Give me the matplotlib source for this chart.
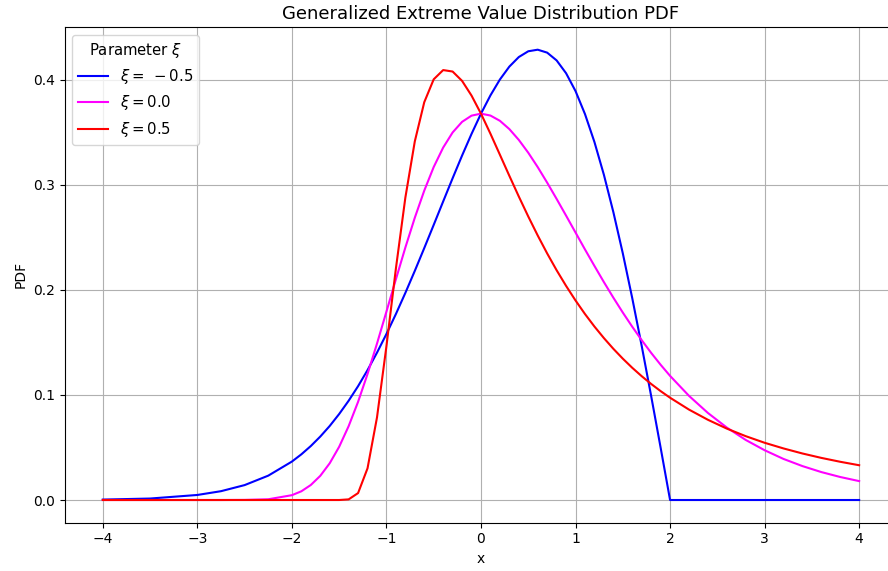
import matplotlib.pyplot as plt

# sample positions along x
x = [-4.0, -3.5, -3.0, -2.75, -2.5, -2.25,
     -2.0, -1.9, -1.8, -1.7, -1.6, -1.5, -1.4, -1.3, -1.2, -1.1,
     -1.0, -0.9, -0.8, -0.7, -0.6, -0.5, -0.4, -0.3, -0.2, -0.1,
     0.0, 0.1, 0.2, 0.3, 0.4, 0.5, 0.6, 0.7, 0.8, 0.9,
     1.0, 1.1, 1.2, 1.3, 1.4, 1.5, 1.6, 1.7, 1.8, 1.9,
     2.0, 2.2, 2.4, 2.6, 2.8, 3.0, 3.2, 3.4, 3.6, 3.8, 4.0]

# xi = -0.5
pdf_neg = [0.0004, 0.0014, 0.0048, 0.0084, 0.0142, 0.0232,
           0.0366, 0.0435, 0.0514, 0.0604, 0.0705, 0.0819, 0.0945, 0.1084, 0.1237, 0.1403,
           0.1581, 0.1771, 0.1972, 0.2182, 0.2399, 0.2620, 0.2843, 0.3064, 0.3280, 0.3486,
           0.3679, 0.3853, 0.4004, 0.4127, 0.4218, 0.4273, 0.4288, 0.4260, 0.4186, 0.4064,
           0.3894, 0.3675, 0.3409, 0.3097, 0.2742, 0.2349, 0.1922, 0.1467, 0.0990, 0.0499,
           0.0, 0.0, 0.0, 0.0, 0.0, 0.0, 0.0, 0.0, 0.0, 0.0, 0.0]

# xi = 0.0
pdf_zero = [0.0, 0.0, 0.0, 0.0, 0.0001, 0.0007,
            0.0046, 0.0083, 0.0143, 0.0230, 0.0350, 0.0507, 0.0703, 0.0935, 0.1200, 0.1489,
            0.1794, 0.2102, 0.2404, 0.2688, 0.2946, 0.3171, 0.3356, 0.3500, 0.3601, 0.3660,
            0.3679, 0.3661, 0.3611, 0.3532, 0.3429, 0.3307, 0.3170, 0.3022, 0.2867, 0.2708,
            0.2547, 0.2386, 0.2229, 0.2075, 0.1927, 0.1785, 0.1650, 0.1522, 0.1401, 0.1288,
            0.1182, 0.0992, 0.0829, 0.0690, 0.0572, 0.0474, 0.0391, 0.0323, 0.0266, 0.0219, 0.0180]

# xi = 0.5
pdf_pos = [0.0, 0.0, 0.0, 0.0, 0.0, 0.0,
           0.0, 0.0, 0.0, 0.0, 0.0, 0.0, 0.0006, 0.0066, 0.0302, 0.0786,
           0.1465, 0.2204, 0.2879, 0.3415, 0.3788, 0.4006, 0.4094, 0.4080, 0.3991, 0.3851,
           0.3679, 0.3488, 0.3288, 0.3087, 0.2890, 0.2700, 0.2519, 0.2348, 0.2188, 0.2039,
           0.1900, 0.1771, 0.1652, 0.1542, 0.1440, 0.1346, 0.1259, 0.1179, 0.1105, 0.1037,
           0.0974, 0.0861, 0.0764, 0.0680, 0.0608, 0.0545, 0.0491, 0.0443, 0.0401, 0.0364, 0.0331]

series = [
    (pdf_neg, r'$\xi =\;-0.5$', 'blue'),
    (pdf_zero, r'$\xi = 0.0$', 'magenta'),
    (pdf_pos, r'$\xi = 0.5$', 'red'),
]

fig = plt.figure(figsize=(8.88, 5.71), dpi=100)
ax = fig.add_axes([0.0732, 0.0849, 0.9369, 0.8675])

for y, label, color in series:
    ax.plot(x, y, color=color, label=label)

ax.set_title('Generalized Extreme Value Distribution PDF', fontsize=13)
ax.set_xlabel('x')
ax.set_ylabel('PDF')
ax.grid(True)
ax.legend(title=r'Parameter $\xi$', loc='upper left', fontsize=10.7, title_fontsize=10.7)

fig.savefig('out.png', dpi=100)
